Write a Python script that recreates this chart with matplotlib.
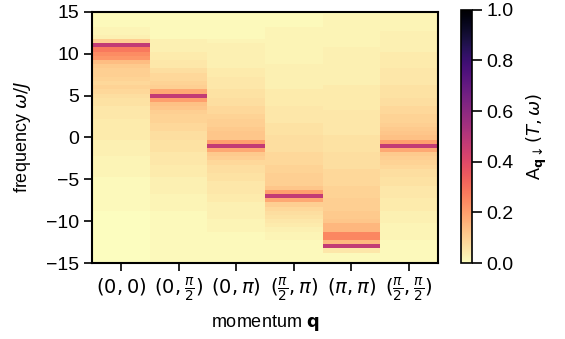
import matplotlib
matplotlib.use("Agg")
import matplotlib.pyplot as plt
import numpy as np

plt.rcParams["font.family"] = ["Liberation Sans", "DejaVu Sans"]
plt.rcParams["font.size"] = 13
plt.rcParams["xtick.labelsize"] = 14
plt.rcParams["ytick.labelsize"] = 14

# momenta along the path and frequency bins (centres, top to bottom, step 0.5)
momenta = [r"$(0,0)$", r"$(0,\frac{\pi}{2})$", r"$(0,\pi)$",
           r"$(\frac{\pi}{2},\pi)$", r"$(\pi,\pi)$", r"$(\frac{\pi}{2},\frac{\pi}{2})$"]
omega_top = 15.0
omega_bottom = -15.0
omega_step = 0.5

# spectral weight per momentum, one value per frequency bin (omega = 15 ... -15)
A_00 = [0.01, 0.01, 0.01, 0.01, 0.02, 0.02, 0.03, 0.10, 0.47, 0.28,
        0.24, 0.22, 0.14, 0.11, 0.10, 0.10, 0.09, 0.08, 0.09, 0.08,
        0.07, 0.06, 0.06, 0.05, 0.05, 0.05, 0.04, 0.04, 0.04, 0.04,
        0.04, 0.03, 0.03, 0.03, 0.03, 0.02, 0.02, 0.02, 0.02, 0.02,
        0.01, 0.01, 0.01, 0.01, 0.01, 0.01, 0.01, 0.01, 0.00, 0.00,
        0.00, 0.00, 0.00, 0.00, 0.00, 0.00, 0.00, 0.00, 0.00, 0.00, 0.00]
A_0pi2 = [0.01, 0.01, 0.01, 0.01, 0.01, 0.01, 0.01, 0.03, 0.03, 0.03,
          0.04, 0.04, 0.05, 0.05, 0.07, 0.08, 0.08, 0.09, 0.10, 0.18,
          0.47, 0.20, 0.13, 0.12, 0.10, 0.09, 0.09, 0.08, 0.08, 0.07,
          0.07, 0.06, 0.06, 0.06, 0.05, 0.05, 0.05, 0.04, 0.04, 0.04,
          0.03, 0.03, 0.03, 0.03, 0.02, 0.02, 0.02, 0.02, 0.01, 0.01,
          0.01, 0.01, 0.01, 0.01, 0.01, 0.01, 0.01, 0.01, 0.01, 0.01, 0.01]
A_0pi = [0.01, 0.01, 0.01, 0.01, 0.01, 0.01, 0.01, 0.02, 0.03, 0.03,
         0.03, 0.03, 0.03, 0.03, 0.04, 0.04, 0.05, 0.05, 0.05, 0.06,
         0.06, 0.07, 0.07, 0.08, 0.08, 0.09, 0.10, 0.10, 0.11, 0.12,
         0.12, 0.20, 0.47, 0.18, 0.11, 0.10, 0.08, 0.07, 0.07, 0.06,
         0.06, 0.05, 0.05, 0.05, 0.04, 0.04, 0.03, 0.03, 0.03, 0.03,
         0.02, 0.02, 0.02, 0.01, 0.01, 0.01, 0.01, 0.01, 0.01, 0.01, 0.01]
A_pi2pi = [0.01, 0.01, 0.01, 0.01, 0.02, 0.02, 0.02, 0.02, 0.02, 0.02,
           0.02, 0.02, 0.02, 0.03, 0.03, 0.03, 0.03, 0.03, 0.03, 0.04,
           0.04, 0.04, 0.04, 0.05, 0.05, 0.05, 0.05, 0.06, 0.06, 0.06,
           0.07, 0.07, 0.07, 0.07, 0.08, 0.08, 0.08, 0.09, 0.09, 0.10,
           0.10, 0.10, 0.12, 0.20, 0.47, 0.18, 0.10, 0.08, 0.07, 0.06,
           0.05, 0.04, 0.03, 0.02, 0.02, 0.01, 0.01, 0.01, 0.01, 0.01, 0.01]
A_pipi = [0.01, 0.02, 0.02, 0.02, 0.02, 0.02, 0.02, 0.02, 0.02, 0.03,
          0.03, 0.03, 0.03, 0.03, 0.03, 0.03, 0.03, 0.03, 0.04, 0.04,
          0.04, 0.04, 0.04, 0.04, 0.05, 0.05, 0.05, 0.05, 0.05, 0.05,
          0.06, 0.06, 0.06, 0.06, 0.07, 0.07, 0.07, 0.07, 0.08, 0.08,
          0.08, 0.08, 0.09, 0.09, 0.09, 0.10, 0.10, 0.10, 0.11, 0.11,
          0.12, 0.15, 0.15, 0.25, 0.25, 0.15, 0.47, 0.05, 0.01, 0.01, 0.01]
A_pi2pi2 = [0.02, 0.02, 0.02, 0.02, 0.02, 0.03, 0.03, 0.03, 0.03, 0.03,
            0.04, 0.04, 0.04, 0.04, 0.05, 0.05, 0.05, 0.05, 0.06, 0.06,
            0.06, 0.07, 0.07, 0.08, 0.08, 0.09, 0.09, 0.10, 0.11, 0.12,
            0.13, 0.20, 0.47, 0.18, 0.11, 0.10, 0.09, 0.08, 0.07, 0.07,
            0.06, 0.06, 0.05, 0.05, 0.05, 0.04, 0.04, 0.04, 0.03, 0.03,
            0.03, 0.02, 0.02, 0.02, 0.02, 0.01, 0.01, 0.01, 0.01, 0.01, 0.01]

spectra = np.column_stack([A_00, A_0pi2, A_0pi, A_pi2pi, A_pipi, A_pi2pi2])
n_bins = spectra.shape[0]
y_edges = np.linspace(omega_top + omega_step / 2, omega_bottom - omega_step / 2, n_bins + 1)
x_edges = np.arange(len(momenta) + 1) - 0.5

fig = plt.figure(figsize=(5.65, 3.39), dpi=100)
ax = fig.add_axes([0.163, 0.224, 0.612, 0.741])
cax = fig.add_axes([0.816, 0.224, 0.0195, 0.747])

mesh = ax.pcolormesh(x_edges, y_edges, spectra, cmap="magma_r", vmin=0, vmax=1)
ax.set_xlim(-0.5, len(momenta) - 0.5)
ax.set_ylim(-15, 15)
ax.set_xticks(range(len(momenta)))
ax.set_xticklabels(momenta)
ax.set_yticks([-15, -10, -5, 0, 5, 10, 15])
ax.set_xlabel(r"momentum $\mathbf{q}$", labelpad=6)
ax.set_ylabel(r"frequency $\omega/J$", labelpad=9)
for s in ax.spines.values():
    s.set_linewidth(1.5)
ax.tick_params(width=1.2, length=6)

cb = fig.colorbar(mesh, cax=cax)
cb.set_ticks([0.0, 0.2, 0.4, 0.6, 0.8, 1.0])
cb.set_label(r"A$_{\mathbf{q}\downarrow}(T,\omega)$", labelpad=8)
cb.outline.set_linewidth(1.2)
cax.tick_params(width=1.2, length=7)

fig.savefig("out.png", dpi=100)
plt.close(fig)
